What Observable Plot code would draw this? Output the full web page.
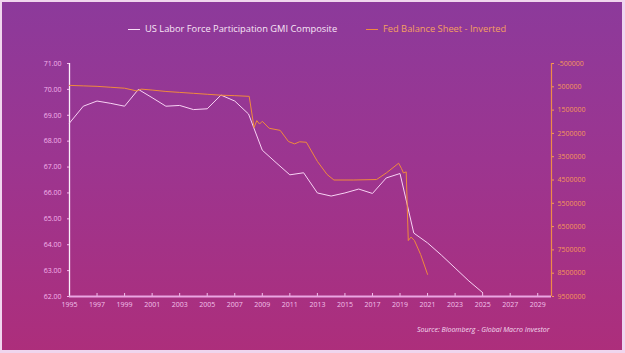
<!DOCTYPE html>
<html>
<head>
<meta charset="utf-8">
<script src="https://cdn.jsdelivr.net/npm/d3@7"></script>
<script src="https://cdn.jsdelivr.net/npm/@observablehq/plot@0.6"></script>
<style>
  html, body { margin: 0; padding: 0; background: #ffffff; }
  #wrap {
    position: relative; width: 625px; height: 353px; overflow: hidden;
    background: linear-gradient(to bottom, #8c3a9b 0%, #9c3590 45%, #ad2e7b 100%);
    box-shadow: inset 2px 2px 0 #f0d6ee, inset -3px -3px 0 #f0d6ee;
    font-family: "Open Sans", "DejaVu Sans", sans-serif;
  }
  #chart { position: absolute; left: 0; top: 0; }
  .leg { position: absolute; top: 22px; font-size: 9.3px; white-space: nowrap; line-height: 14px; }
  .leg .dash { display: inline-block; width: 12px; height: 1px; vertical-align: middle; margin-right: 5px; }
  #src { position: absolute; left: 417px; top: 325px; font-size: 7px; font-style: italic; color: #f4dcf0; white-space: nowrap; }
</style>
</head>
<body>
<div id="wrap">
  <div id="chart"></div>
  <div class="leg" style="left:128px; color:#f8e6f6;"><span class="dash" style="background:#f8e0f6"></span>US Labor Force Participation GMI Composite</div>
  <div class="leg" style="left:366px; color:#f5a060;"><span class="dash" style="background:#f08a40"></span>Fed Balance Sheet - Inverted</div>
  <div id="src">Source: Bloomberg - Global Macro Investor</div>
</div>
<script>
// US Labor Force Participation GMI Composite (left axis)
const laborYears  = [1995, 1996, 1997, 1998, 1999, 2000, 2001, 2002, 2003, 2004, 2005, 2006, 2007, 2008, 2009, 2010, 2011, 2012, 2013, 2014, 2015, 2016, 2017, 2018, 2019, 2020, 2021, 2022, 2023, 2024, 2025];
const laborValues = [68.70, 69.35, 69.55, 69.46, 69.35, 70.00, 69.68, 69.35, 69.38, 69.22, 69.25, 69.78, 69.55, 69.05, 67.65, 67.17, 66.70, 66.78, 66.00, 65.88, 66.00, 66.15, 65.98, 66.58, 66.75, 64.45, 64.07, 63.60, 63.10, 62.60, 62.15];

// Fed Balance Sheet (right axis, inverted)
const fedYears  = [1995.0, 1996.0, 1997.0, 1998.0, 1999.0, 1999.9, 2000.2, 2001.0, 2002.0, 2003.0, 2004.0, 2005.0, 2006.0, 2007.0, 2008.05, 2008.4, 2008.6, 2008.8, 2009.0, 2009.5, 2010.3, 2010.9, 2011.35, 2011.7, 2012.2, 2013.0, 2013.7, 2014.2, 2015.6, 2017.3, 2018.0, 2018.9, 2019.1, 2019.25, 2019.45, 2019.6, 2019.8, 2020.05, 2020.5, 2021.0];
const fedValues = [440000, 460000, 480000, 520000, 560000, 680000, 600000, 640000, 700000, 740000, 780000, 820000, 860000, 880000, 910000, 2250000, 1950000, 2100000, 1980000, 2280000, 2370000, 2850000, 2950000, 2860000, 2880000, 3700000, 4260000, 4500000, 4500000, 4480000, 4200000, 3780000, 4000000, 4200000, 4150000, 7100000, 6950000, 7100000, 7700000, 8550000];

// Tick labels
const xTicks = [1995, 1997, 1999, 2001, 2003, 2005, 2007, 2009, 2011, 2013, 2015, 2017, 2019, 2021, 2023, 2025, 2027, 2029];
const leftTicks = [62, 63, 64, 65, 66, 67, 68, 69, 70, 71];
const rightTicks = [-500000, 500000, 1500000, 2500000, 3500000, 4500000, 5500000, 6500000, 7500000, 8500000, 9500000];

// right axis (inverted) mapped onto the left scale
const leftMin = 62, leftMax = 71, rightTop = -500000, rightBottom = 9500000;
const toLeft = v => leftMax - (v - rightTop) / (rightBottom - rightTop) * (leftMax - leftMin);
const fromLeft = y => Math.round((leftMax - y) / (leftMax - leftMin) * (rightBottom - rightTop) + rightTop);

const labor = laborYears.map((x, i) => ({x, y: laborValues[i]}));
const fed = fedYears.map((x, i) => ({x, v: fedValues[i]}));

const chart = Plot.plot({
  width: 625,
  height: 353,
  marginLeft: 69,
  marginRight: 74,
  marginTop: 63,
  marginBottom: 57,
  style: {background: "transparent", fontFamily: "'Open Sans', sans-serif", fontSize: "7px", overflow: "visible"},
  x: {domain: [1995, 2030]},
  y: {domain: [leftMin, leftMax]},
  marks: [
    Plot.axisX({ticks: xTicks, tickFormat: d => String(d), tickSize: -3, tickPadding: 9, color: "#f2c0ea", label: null}),
    Plot.axisY({ticks: leftTicks, tickFormat: d3.format(".2f"), tickSize: 2, tickPadding: 6, color: "#f4b6ec", label: null}),
    Plot.axisY({anchor: "right", ticks: rightTicks.map(toLeft), tickFormat: d => String(fromLeft(d)), tickSize: 2, tickPadding: 4, color: "#f5985a", label: null}),
    Plot.ruleX([1995], {stroke: "#fbeefa", strokeWidth: 1.3}),
    Plot.ruleX([2030], {stroke: "#f08a48", strokeWidth: 1.2}),
    Plot.ruleY([leftMin], {stroke: "#eaa6e2", strokeWidth: 2}),
    Plot.line(labor, {x: "x", y: "y", stroke: "#f8d2f4", strokeWidth: 1}),
    Plot.line(fed, {x: "x", y: d => toLeft(d.v), stroke: "#f08a3c", strokeWidth: 1})
  ]
});
document.getElementById("chart").appendChild(chart);
</script>
</body>
</html>
